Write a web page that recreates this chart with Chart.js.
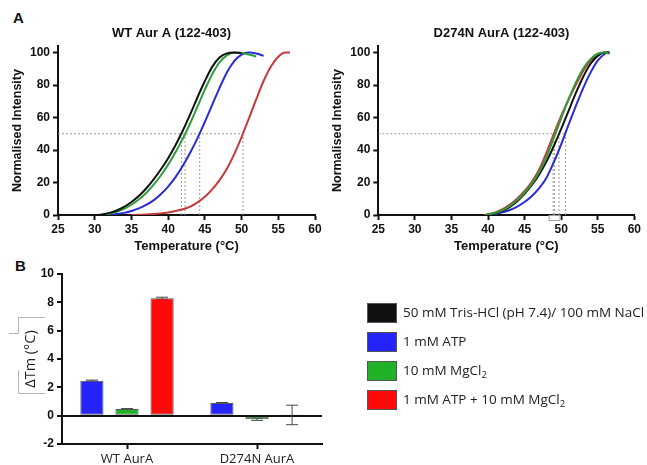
<!DOCTYPE html>
<html>
<head>
<meta charset="utf-8">
<script src="https://cdn.jsdelivr.net/npm/chart.js@4.4.1/dist/chart.umd.min.js"></script>
<style>
body { margin: 0; background: #fff; overflow: hidden; }
#wrap { position: relative; width: 647px; height: 465px; overflow: hidden; }
canvas { position: absolute; }
.panel { position: absolute; font: bold 15px "Liberation Sans", Arial, sans-serif; color: #111; }
</style>
</head>
<body>
<div id="wrap">
    <div class="panel" style="left:13px;top:9px">A</div>
    <div class="panel" style="left:15px;top:257px">B</div>
    <canvas id="wt_chart" width="343" height="258" style="left:0;top:0"></canvas>
    <canvas id="mut_chart" width="363" height="258" style="left:320px;top:0"></canvas>
    <canvas id="bar_chart" width="647" height="207" style="left:0;top:258px"></canvas>
</div>
<script>
// melt curves, [temperature °C, normalised intensity]
const wtBuffer = [[30.5,0],[31,0.3],[32,1.3],[33,2.8],[34,5],[35,8],[36,11.7],[37,16.3],[38,21.8],[39,28],[40,35],[41,43],[42,52],[43,62],[44,72.5],[45,82.5],[46,91.2],[47,97],[48,99.5],[49,100],[50,99.8]];
const wtMg = [[31,0],[32,0.8],[33,2],[34,3.8],[35,6.3],[36,9.5],[37,13.5],[38,18.5],[39,24.3],[40,31],[41,38.6],[42,47],[43,56.5],[44,66.8],[45,77.2],[46,86.7],[47,94],[48,98.3],[49,99.9],[50,99.7],[51,98.8],[52,97.6]];
const wtAtp = [[31.5,0],[32,0.2],[33,0.6],[34,1.3],[35,2.5],[36,4.1],[37,6.2],[38,9],[39,12.8],[40,17.5],[41,23.3],[42,30.3],[43,38.3],[44,47.3],[45,57.3],[46,67.8],[47,78.3],[48,87.8],[49,94.8],[50,98.8],[51,100],[52,99.4],[53,98]];
const wtAtpMg = [[35,0],[36,0.1],[37,0.3],[38,0.6],[39,1],[40,1.6],[41,2.4],[42,3.5],[43,5.2],[44,7.8],[45,11.3],[46,15.8],[47,21.5],[48,28.5],[49,37.5],[50,48],[51,59.5],[52,71.3],[53,82.5],[54,91.5],[55,97.5],[56,100],[56.6,100]];

const mutBuffer = [[39.8,0],[41,1],[42,2.5],[43,5],[44,8.5],[45,13],[46,18.5],[47,25],[48,33],[49,42.5],[50,53],[51,64],[52,75],[53,85],[54,93],[55,98],[56,100],[56.6,100]];
const mutAtp = [[40,0],[41,0.6],[42,1.6],[43,3.1],[44,5.2],[45,8],[46,11.7],[47,16.5],[48,23],[49,32.5],[50,43.5],[51,55.5],[52,67],[53,78],[54,87.5],[55,95],[56,99.3],[56.6,100]];
const mutMg = [[39.7,0],[41,1.3],[42,3],[43,5.6],[44,9.2],[45,13.7],[46,19.3],[47,26.5],[48,36],[49,47.5],[50,59.5],[51,71],[52,81.5],[53,90],[54,96],[55,99.3],[56,100],[56.6,99.2]];
const mutAtpMg = [[39.5,0],[41,1.6],[42,3.6],[43,6.4],[44,10.2],[45,14.8],[46,20.5],[47,28],[48,38.5],[49,50],[50,61],[51,71],[52,80],[53,88.5],[54,95],[55,99],[56,100],[56.6,100]];

// Tm markers (dotted lines at 50 %)
const wtTm = [41.8, 42.3, 44.3, 50.2];
const mutTm = [48.9, 49.1, 49.7, 50.6];
const meltYTicks = [0, 20, 40, 60, 80, 100];

// delta Tm bars
const barCategories = ['WT AurA', 'D274N AurA'];
const atpDelta = [2.47, 0.9];
const atpErr = [0.04, 0.03];
const mgDelta = [0.47, -0.25];
const mgErr = [0.03, 0.08];
const atpMgDelta = [8.28, 0.05];
const atpMgErr = [0.08, 0.69];

const legendLabels = ['50 mM Tris-HCl (pH 7.4)/ 100 mM NaCl', '1 mM ATP', '10 mM MgCl\u2082', '1 mM ATP + 10 mM MgCl\u2082'];

const COLORS = {
    BLACK: '#111111',
    BLUE: '#2b2bd6',
    GREEN: '#2e9c3a',
    RED: '#c63a3a',
    BAR_BLUE: '#2323fa',
    BAR_GREEN: '#20b226',
    BAR_RED: '#ff0a0a',
    TEXT: '#111111',
    REF: '#9a9a9a'
};
const legendColors = [COLORS.BLACK, COLORS.BAR_BLUE, COLORS.BAR_GREEN, COLORS.BAR_RED];

const BOLD_FONT = { family: '"Liberation Sans", Arial, sans-serif', size: 12, weight: 'bold' };
const PLAIN_FONT = { family: '"Open Sans", sans-serif', size: 13, weight: 'normal' };

const toPoints = (pairs) => pairs.map(p => ({ x: p[0], y: p[1] }));

const getMeltConfig = (title, curves, tms, leftWidth, rightWidth, extraPlugins) => {
    const tmMax = Math.max(...tms);
    const refStyle = { borderColor: COLORS.REF, borderWidth: 1, borderDash: [2, 2], cubicInterpolationMode: 'default', tension: 0 };
    const refLines = [{ data: [{ x: 25, y: 50 }, { x: tmMax, y: 50 }], ...refStyle }]
        .concat(tms.map(tm => ({ data: [{ x: tm, y: 0 }, { x: tm, y: 50 }], ...refStyle })));

    return {
        type: 'line',
        data: {
            datasets: curves.map(c => ({
                data: toPoints(c.pairs),
                borderColor: c.color,
                borderWidth: 2,
            })).concat(refLines),
        },
        options: {
            responsive: false,
            animation: false,
            layout: { padding: 0 },
            elements: {
                point: { radius: 0 },
                line: { cubicInterpolationMode: 'monotone' }
            },
            plugins: {
                legend: { display: false },
                tooltip: { enabled: false },
                title: {
                    display: true,
                    text: title,
                    color: COLORS.TEXT,
                    font: { ...BOLD_FONT, size: 13 },
                    padding: { top: 25.5, bottom: 5 }
                }
            },
            scales: {
                x: {
                    type: 'linear',
                    min: 25,
                    max: 60,
                    ticks: { stepSize: 5, color: COLORS.TEXT, font: BOLD_FONT, padding: 2 },
                    grid: { drawOnChartArea: false, tickLength: 5, tickColor: COLORS.TEXT, tickWidth: 2 },
                    border: { color: COLORS.TEXT, width: 2 },
                    title: { display: true, text: 'Temperature (°C)', color: COLORS.TEXT, font: { ...BOLD_FONT, size: 13 }, padding: { top: 2, bottom: 4 } },
                    afterFit: (s) => { s.height = 43; }
                },
                y: {
                    min: 0,
                    max: 104,
                    ticks: { color: COLORS.TEXT, font: BOLD_FONT, padding: 3 },
                    afterBuildTicks: (s) => { s.ticks = meltYTicks.map(v => ({ value: v })); },
                    grid: { drawOnChartArea: false, tickLength: 5, tickColor: COLORS.TEXT, tickWidth: 2 },
                    border: { color: COLORS.TEXT, width: 2 },
                    title: { display: true, text: 'Normalised Intensity', color: COLORS.TEXT, font: { ...BOLD_FONT, size: 12.5 }, padding: { top: 10, bottom: 0 } },
                    afterFit: (s) => { s.width = leftWidth; }
                },
                y2: {
                    position: 'right',
                    grid: { display: false },
                    ticks: { display: false },
                    border: { display: false },
                    afterFit: (s) => { s.width = rightWidth; }
                }
            }
        },
        plugins: extraPlugins || []
    };
};

// small empty frame pasted under the D274N axis
const axisFramePlugin = {
    id: 'axisFrame',
    afterDraw(chart) {
        const ctx = chart.ctx;
        const x = chart.scales.x.getPixelForValue(49.1);
        const y = chart.chartArea.bottom;
        ctx.save();
        ctx.fillStyle = '#fff';
        ctx.strokeStyle = '#a0a0a0';
        ctx.lineWidth = 1;
        ctx.fillRect(x - 5, y + 1, 11, 5);
        ctx.strokeRect(x - 5.5, y + 0.5, 11, 5);
        ctx.restore();
    }
};

const errorBarPlugin = {
    id: 'errorBars',
    beforeDatasetsDraw(chart) {
        const ctx = chart.ctx;
        const yScale = chart.scales.y;
        chart.data.datasets.forEach((ds, i) => {
            chart.getDatasetMeta(i).data.forEach((bar, j) => {
                const v = ds.data[j];
                const e = ds.errors[j];
                const top = yScale.getPixelForValue(v + e);
                const bot = yScale.getPixelForValue(v - e);
                ctx.save();
                ctx.strokeStyle = '#444';
                ctx.lineWidth = 1;
                ctx.beginPath();
                ctx.moveTo(bar.x, top); ctx.lineTo(bar.x, bot);
                ctx.moveTo(bar.x - 6, top); ctx.lineTo(bar.x + 6, top);
                ctx.moveTo(bar.x - 6, bot); ctx.lineTo(bar.x + 6, bot);
                ctx.stroke();
                ctx.restore();
            });
        });
    }
};

// leftover frame of the pasted axis label box
const labelFramePlugin = {
    id: 'labelFrame',
    afterDraw(chart) {
        const ctx = chart.ctx;
        ctx.save();
        ctx.strokeStyle = '#b5b5b5';
        ctx.lineWidth = 1;
        ctx.beginPath();
        ctx.moveTo(45, 59.5); ctx.lineTo(18.5, 59.5); ctx.lineTo(18.5, 75.5); ctx.lineTo(9, 75.5);
        ctx.moveTo(18.5, 112); ctx.lineTo(18.5, 135.5); ctx.lineTo(45, 135.5);
        ctx.stroke();
        ctx.restore();
    }
};

// legend to the right of the bar chart, with subscript 2
const sideLegendPlugin = {
    id: 'sideLegend',
    afterDraw(chart) {
        const ctx = chart.ctx;
        const boxX = chart.chartArea.right + 45;
        const textX = boxX + 36;
        const font = '13.5px "Open Sans", sans-serif';
        const subFont = '9.5px "Open Sans", sans-serif';
        ctx.save();
        legendLabels.forEach((label, i) => {
            const top = chart.chartArea.top + 29 + i * 29;
            ctx.fillStyle = legendColors[i];
            ctx.fillRect(boxX, top, 30, 20);
            ctx.strokeStyle = '#555';
            ctx.lineWidth = 1;
            ctx.strokeRect(boxX + 0.5, top + 0.5, 29, 19);

            ctx.fillStyle = '#222';
            ctx.textBaseline = 'middle';
            let x = textX;
            label.split('\u2082').forEach((part, k) => {
                if (k > 0) {
                    ctx.font = subFont;
                    ctx.fillText('2', x, top + 14.5);
                    x += ctx.measureText('2').width;
                }
                ctx.font = font;
                ctx.fillText(part, x, top + 10);
                x += ctx.measureText(part).width;
            });
        });
        ctx.restore();
    }
};

const getBarConfig = () => ({
    type: 'bar',
    data: {
        labels: barCategories,
        datasets: [
            { label: legendLabels[1], data: atpDelta, errors: atpErr, backgroundColor: COLORS.BAR_BLUE },
            { label: legendLabels[2], data: mgDelta, errors: mgErr, backgroundColor: COLORS.BAR_GREEN },
            { label: legendLabels[3], data: atpMgDelta, errors: atpMgErr, backgroundColor: COLORS.BAR_RED },
        ].map(ds => ({ ...ds, borderColor: '#555', borderWidth: 1, borderSkipped: false })),
    },
    options: {
        responsive: false,
        animation: false,
        layout: { padding: { top: 16, right: 325 } },
        datasets: { bar: { categoryPercentage: 0.81, barPercentage: 0.66 } },
        plugins: {
            tooltip: { enabled: false },
            legend: { display: false }
        },
        scales: {
            x: {
                ticks: { color: '#222', font: PLAIN_FONT, padding: 2 },
                grid: { offset: false, drawOnChartArea: false, tickLength: 5, tickColor: COLORS.TEXT, tickWidth: 2 },
                border: { color: COLORS.TEXT, width: 2 },
                afterFit: (s) => { s.height = 21; }
            },
            y: {
                min: -2,
                max: 10,
                ticks: { stepSize: 2, color: COLORS.TEXT, font: BOLD_FONT, padding: 3 },
                grid: {
                    color: (c) => (c.tick && c.tick.value === 0 ? COLORS.TEXT : 'rgba(0,0,0,0)'),
                    lineWidth: 2,
                    tickLength: 5,
                    tickColor: COLORS.TEXT,
                    tickWidth: 2
                },
                border: { color: COLORS.TEXT, width: 2 },
                title: { display: true, text: '\u0394Tm (°C)', color: '#222', font: { ...PLAIN_FONT, size: 14.5 }, padding: { top: 22, bottom: 0 } },
                afterFit: (s) => { s.width = 62; }
            }
        }
    },
    plugins: [errorBarPlugin, labelFramePlugin, sideLegendPlugin]
});

const wtCurves = [
    { pairs: wtBuffer, color: COLORS.BLACK },
    { pairs: wtMg, color: COLORS.GREEN },
    { pairs: wtAtp, color: COLORS.BLUE },
    { pairs: wtAtpMg, color: COLORS.RED },
];
const mutCurves = [
    { pairs: mutMg, color: COLORS.GREEN },
    { pairs: mutBuffer, color: COLORS.BLACK },
    { pairs: mutAtpMg, color: COLORS.RED },
    { pairs: mutAtp, color: COLORS.BLUE },
];

new Chart(document.getElementById('wt_chart'), getMeltConfig('WT Aur A (122-403)', wtCurves, wtTm, 58, 28));
new Chart(document.getElementById('mut_chart'), getMeltConfig('D274N AurA (122-403)', mutCurves, mutTm, 58.3, 48.7, [axisFramePlugin]));
new Chart(document.getElementById('bar_chart'), getBarConfig());
</script>
</body>
</html>
